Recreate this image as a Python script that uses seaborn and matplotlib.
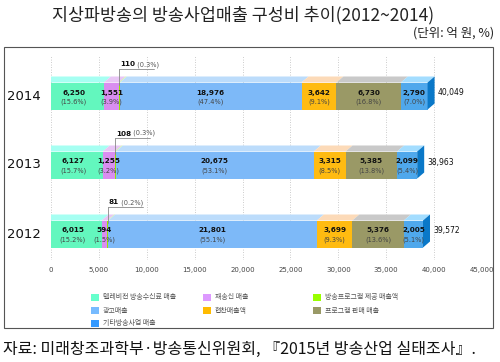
import matplotlib
matplotlib.use('Agg')
import matplotlib.pyplot as plt
import seaborn as sns
import numpy as np
from matplotlib.patches import Polygon, Rectangle
from matplotlib.transforms import ScaledTranslation
from matplotlib.lines import Line2D

# ---------------- data ----------------
years = ['2014', '2013', '2012']
series = ['텔레비전 방송수신료 매출', '재송신 매출', '방송프로그램 제공 매출액',
          '광고매출', '협찬매출액', '프로그램 판매 매출', '기타방송사업 매출']
subscription = [6250, 6127, 6015]
retransmission = [1551, 1255, 594]
program_supply = [110, 108, 81]
advertising = [18976, 20675, 21801]
sponsorship = [3642, 3315, 3699]
program_sales = [6730, 5385, 5376]
other = [2790, 2099, 2005]
totals = [40049, 38963, 39572]

subscription_pct = [15.6, 15.7, 15.2]
retransmission_pct = [3.9, 3.2, 1.5]
program_supply_pct = [0.3, 0.3, 0.2]
advertising_pct = [47.4, 53.1, 55.1]
sponsorship_pct = [9.1, 8.5, 9.3]
program_sales_pct = [16.8, 13.8, 13.6]
other_pct = [7.0, 5.4, 5.1]

x_ticks = [0, 5000, 10000, 15000, 20000, 25000, 30000, 35000, 40000, 45000]
x_tick_labels = ['0', '5,000', '10,000', '15,000', '20,000', '25,000',
                 '30,000', '35,000', '40,000', '45,000']

title = '지상파방송의 방송사업매출 구성비 추이(2012~2014)'
unit = '(단위: 억 원, %)'
source = '자료: 미래창조과학부·방송통신위원회, 『2015년 방송산업 실태조사』.'

# ---------------- styles ----------------
front_colors = ['#63F7BE', '#D98EF0', '#99E600', '#7DB9F8', '#FFBB11', '#9A9966', '#4FA8EC']
top_colors = ['#A6FFF2', '#E8C6F5', '#CCFF88', '#BCDCFB', '#FCDAB8', '#C9C9C9', '#A3DDFF']
side_color = '#0A78C8'
legend_colors = ['#66FFCC', '#DD99FF', '#99FF00', '#77BBFF', '#FFBB00', '#999966', '#3399FF']

sns.set_style('white')
plt.rcParams['font.family'] = ['Noto Sans CJK KR', 'DejaVu Sans']

W, H = 500, 362
fig = plt.figure(figsize=(5, 3.62), dpi=100)


def fx(px):
    return px / W


def fy(py):
    return 1 - py / H


ax_top, ax_bot = 55, 260
ax = fig.add_axes([fx(51), fy(ax_bot), fx(482) - fx(51), (ax_bot - ax_top) / H])

PX_X = 45000 / 431.0   # data units per pixel (x)
PX_Y = 1 / 69.0        # data units per pixel (y)
BAR_H = 27 * PX_Y
dx = 7 * PX_X
dy = 6 * PX_Y

for t in x_ticks:
    ax.axvline(t, color='#BBBBBB', lw=0.6, ls=(0, (1, 2)), zorder=0)

values = np.array([subscription, retransmission, program_supply, advertising,
                   sponsorship, program_sales, other])
pcts = [subscription_pct, retransmission_pct, program_supply_pct, advertising_pct,
        sponsorship_pct, program_sales_pct, other_pct]
cum = np.cumsum(values, axis=0)
starts = cum - values

front_off = ax.transData + ScaledTranslation(-7 / 100, -6 / 100, fig.dpi_scale_trans)

for i in range(6, -1, -1):
    n0 = len(ax.patches)
    sns.barplot(x=cum[i], y=years, order=years, orient='h', color=front_colors[i],
                saturation=1, width=BAR_H, errorbar=None, ax=ax, zorder=2)
    for p in ax.patches[n0:]:
        p.set_transform(front_off)
        p.set_linewidth(0)

ax.set_xlim(0, 45000)
ax.set_ylim(2 + (ax_bot - 228) / 69.0, -(90 - ax_top) / 69.0)

for j, yr in enumerate(years):
    yt = j - BAR_H / 2
    for i in range(7):
        x0, x1 = starts[i][j], cum[i][j]
        ax.add_patch(Polygon([(x0 - dx, yt + dy), (x1 - dx, yt + dy), (x1, yt), (x0, yt)],
                             closed=True, fc=top_colors[i], lw=0, zorder=2))
    xe = cum[-1][j]
    ax.add_patch(Polygon([(xe - dx, yt + dy), (xe, yt), (xe, yt + BAR_H), (xe - dx, yt + dy + BAR_H)],
                         closed=True, fc=side_color, lw=0, zorder=2))

    # in-segment labels
    yc = j + dy
    for i in range(7):
        if i == 2:
            continue
        xc = (starts[i][j] + cum[i][j]) / 2 - dx
        ax.text(xc, yc - 3.5 * PX_Y, f'{values[i][j]:,}', ha='center', va='center',
                fontsize=5.2, fontweight='bold', color='#111', zorder=4,
                family=['DejaVu Sans'])
        ax.text(xc, yc + 6 * PX_Y, f'({pcts[i][j]:.1f}%)', ha='center', va='center',
                fontsize=4.8, color='#444', zorder=4, family=['DejaVu Sans'])

    # callout for program supply
    xl = starts[2][j] + values[2][j] / 2 - dx
    yl = j - 21 * PX_Y
    ax.add_line(Line2D([xl, xl], [yt + dy + 2 * PX_Y, yl], color='#888888', lw=0.6, zorder=5))
    ax.add_line(Line2D([xl, xl + 35 * PX_X], [yl, yl], color='#888888', lw=0.6, zorder=5))
    t1 = ax.text(xl + 1 * PX_X, yl - 1.5 * PX_Y, f'{values[2][j]:,}', ha='left', va='bottom',
                 fontsize=5.2, fontweight='bold', color='#111', zorder=5, family=['DejaVu Sans'])
    ax.annotate(f' ({pcts[2][j]:.1f}%)', xy=(1, 0), xycoords=t1, ha='left', va='bottom',
                fontsize=4.8, color='#555', zorder=5, family=['DejaVu Sans'])

    # totals
    ax.text(xe + 3 * PX_X, j + 3 * PX_Y, f'{totals[j]:,}', ha='left', va='center',
            fontsize=5.5, color='#111', family=['DejaVu Sans'])

    # year label
    ax.annotate(yr, xy=(0, j + dy), xycoords=('axes fraction', 'data'), xytext=(-27, 0),
                textcoords='offset pixels', ha='center', va='center', fontsize=9.5, color='#111',
                family=['DejaVu Sans'])

ax.set_xticks(x_ticks)
ax.set_xticklabels(x_tick_labels, fontsize=5, color='#444', family=['DejaVu Sans'])
ax.tick_params(axis='x', length=0, pad=5)
ax.set_yticks([])
ax.set_xlabel('')
ax.set_ylabel('')
for s in ax.spines.values():
    s.set_visible(False)
ax.set_facecolor('none')

# legend (manual)
col_x = [91, 203, 313]
row_y = [297, 310.5, 323.5]
for i, name in enumerate(series):
    r, c = i // 3, i % 3
    sx, sy = col_x[c], row_y[r]
    fig.add_artist(Rectangle((fx(sx), fy(sy + 3.5)), 8 / W, 7 / H, transform=fig.transFigure,
                             fc=legend_colors[i], ec='none'))
    fig.text(fx(sx + 12), fy(sy), name, ha='left', va='center', fontsize=5, color='#555')

# outer box
fig.add_artist(Rectangle((fx(4), fy(328)), fx(493) - fx(4), (328 - 47) / H,
                         transform=fig.transFigure, fill=False, ec='#555555', lw=0.8))

fig.text(fx(243), fy(15), title, ha='center', va='center', fontsize=12.5, color='#222')
fig.text(fx(494), fy(33), unit, ha='right', va='center', fontsize=9, color='#222')
fig.text(fx(3), fy(349), source, ha='left', va='center', fontsize=11.5, color='#111')

fig.savefig('out.png', dpi=100)
